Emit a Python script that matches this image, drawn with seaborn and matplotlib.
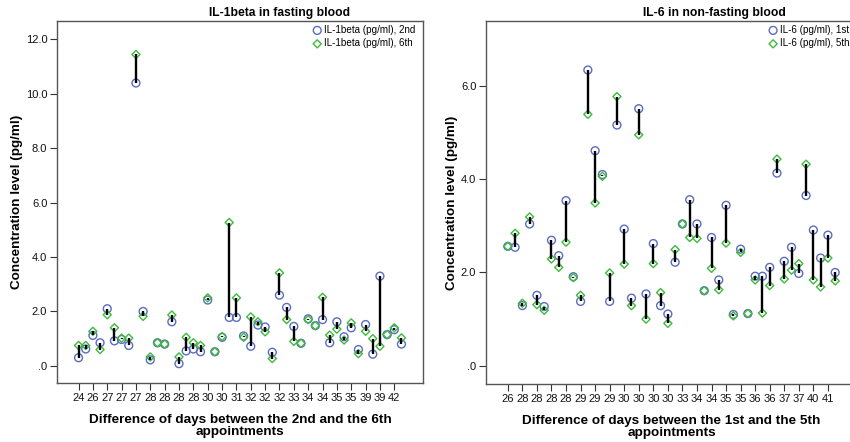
import matplotlib
matplotlib.use("Agg")
import matplotlib.pyplot as plt
import seaborn as sns
import pandas as pd
import numpy as np

# ---------------- data ----------------
# Left panel: IL-1beta in fasting blood
il1_days = [24, 25, 26, 26, 27, 27, 27, 27, 27, 27, 28, 28, 28, 28, 28, 28,
            28, 29, 30, 30, 30, 30, 31, 31, 32, 32, 32, 32, 32, 32, 33, 33,
            34, 34, 34, 34, 35, 35, 35, 36, 39, 39, 39, 40, 42, 42]
il1_2nd = [0.30, 0.62, 1.12, 0.85, 2.10, 0.92, 0.97, 0.75, 10.40, 2.00, 0.22, 0.85,
           0.80, 1.62, 0.08, 0.55, 0.62, 0.52, 2.42, 0.52, 1.05, 1.78, 1.78, 1.10,
           0.72, 1.50, 1.43, 0.50, 2.60, 2.15, 1.45, 0.83, 1.73, 1.48, 1.70, 0.85,
           1.62, 1.07, 1.40, 0.60, 1.52, 0.43, 3.30, 1.15, 1.33, 0.80]
il1_6th = [0.75, 0.75, 1.27, 0.60, 1.88, 1.40, 1.02, 1.02, 11.45, 1.82, 0.33, 0.85,
           0.80, 1.87, 0.33, 1.05, 0.85, 0.75, 2.50, 0.52, 1.08, 5.27, 2.50, 1.05,
           1.80, 1.62, 1.25, 0.27, 3.42, 1.70, 0.90, 0.83, 1.70, 1.48, 2.52, 1.13,
           1.35, 0.95, 1.58, 0.45, 1.27, 1.00, 0.72, 1.15, 1.40, 1.03]

# Right panel: IL-6 in non-fasting blood
il6_days = [26, 27, 28, 28, 28, 28, 28, 28, 28, 28, 29, 29, 29, 29, 29, 29,
            30, 30, 30, 30, 30, 30, 30, 31, 33, 33, 34, 34, 34, 34, 35, 35,
            35, 35, 36, 36, 36, 36, 37, 37, 37, 38, 40, 40, 41, 41]
il6_1st = [2.56, 2.54, 1.29, 3.04, 1.51, 1.27, 2.69, 2.36, 3.54, 1.91, 1.38, 6.34,
           4.61, 4.10, 1.38, 5.16, 2.93, 1.45, 5.51, 1.54, 2.62, 1.29, 1.11, 2.22,
           3.04, 3.56, 3.04, 1.61, 2.75, 1.84, 3.44, 1.10, 2.50, 1.12, 1.92, 1.92,
           2.11, 4.13, 2.24, 2.54, 1.98, 3.65, 2.91, 2.31, 2.80, 2.00]
il6_5th = [2.56, 2.84, 1.34, 3.19, 1.31, 1.19, 2.29, 2.11, 2.65, 1.89, 1.51, 5.39,
           3.49, 4.06, 1.99, 5.77, 2.18, 1.29, 4.95, 1.00, 2.19, 1.57, 0.91, 2.49,
           3.04, 2.75, 2.73, 1.61, 2.09, 1.63, 2.63, 1.07, 2.43, 1.12, 1.84, 1.13,
           1.72, 4.43, 1.86, 2.05, 2.19, 4.32, 1.84, 1.69, 2.31, 1.82]

il1_labels = ["IL-1beta (pg/ml), 2nd", "IL-1beta (pg/ml), 6th"]
il6_labels = ["IL-6 (pg/ml), 1st", "IL-6 (pg/ml), 5th"]
il1_title = "IL-1beta in fasting blood"
il6_title = "IL-6 in non-fasting blood"
il1_xlabel = "Difference of days between the 2nd and the 6th\nappointments"
il6_xlabel = "Difference of days between the 1st and the 5th\nappointments"
ylabel = "Concentration level (pg/ml)"
il1_yticks = [0, 2, 4, 6, 8, 10, 12]
il1_yticklabels = [".0", "2.0", "4.0", "6.0", "8.0", "10.0", "12.0"]
il6_yticks = [0, 2, 4, 6]
il6_yticklabels = [".0", "2.0", "4.0", "6.0"]

# ---------------- style ----------------
sns.set_theme(style="white")
plt.rcParams["font.family"] = ["Liberation Sans", "DejaVu Sans"]
plt.rcParams["text.color"] = "black"
plt.rcParams["axes.labelcolor"] = "black"

BLUE = "#5a6cc4"
GREEN = "#3dbb3d"
SPINE = "#555555"

fig = plt.figure(figsize=(8.5, 4.42), dpi=100)
W, H = 850, 442


def px_axes(l, t, r, b):
    return fig.add_axes([l / W, 1 - b / H, (r - l) / W, (b - t) / H])


def panel(ax, days, a, b, labels, yticks, yticklabels, ylim, xlabel, leg_x):
    n = len(days)
    pos = np.arange(n)
    df = pd.DataFrame({"pos": pos, "a": a, "b": b})
    ax.vlines(df["pos"], df["a"], df["b"], color="black", linewidth=1.7, zorder=3)
    sns.scatterplot(data=df, x="pos", y="a", ax=ax, marker="o", s=32,
                    facecolors="none", edgecolor=BLUE, linewidth=1.0,
                    label=labels[0], zorder=2)
    sns.scatterplot(data=df, x="pos", y="b", ax=ax, marker="D", s=17,
                    facecolors="none", edgecolor=GREEN, linewidth=1.0,
                    label=labels[1], zorder=2)
    ax.set_xlim(-3, n + 2)
    ax.set_ylim(*ylim)
    ax.set_xticks(pos[::2])
    ax.set_xticklabels([str(d) for d in days[::2]], fontsize=8)
    ax.set_yticks(yticks)
    ax.set_yticklabels(yticklabels, fontsize=8)
    ax.tick_params(axis="both", direction="out", length=5, width=0.8,
                   color="#333333", labelcolor="#111111", pad=2, bottom=True, left=True)
    for s in ax.spines.values():
        s.set_color(SPINE)
        s.set_linewidth(1.0)
    ax.set_xlabel(xlabel, fontsize=9.7, fontweight="bold", labelpad=8, linespacing=1.0)
    ax.set_ylabel(ylabel, fontsize=9.7, fontweight="bold", labelpad=2)
    ax.legend(loc="upper right", bbox_to_anchor=(leg_x, 1 - 24 / H),
              bbox_transform=fig.transFigure,
              frameon=False, fontsize=7.1, handletextpad=0.15,
              borderaxespad=0.0, labelspacing=0.35, handlelength=1.0,
              markerscale=1.0, borderpad=0.1)


ax1 = px_axes(57, 21, 423, 383)
panel(ax1, il1_days, il1_2nd, il1_6th, il1_labels, il1_yticks, il1_yticklabels,
      (-0.63, 12.68), il1_xlabel, 416 / W)
ax2 = px_axes(486, 21, 857, 384)
panel(ax2, il6_days, il6_1st, il6_5th, il6_labels, il6_yticks, il6_yticklabels,
      (-0.39, 7.39), il6_xlabel, 850 / W)

fig.text(280 / W, 1 - 13 / H, il1_title, ha="center", va="center",
         fontsize=8.7, fontweight="bold")
fig.text(714 / W, 1 - 13 / H, il6_title, ha="center", va="center",
         fontsize=8.7, fontweight="bold")

fig.savefig("out.png", dpi=100)
